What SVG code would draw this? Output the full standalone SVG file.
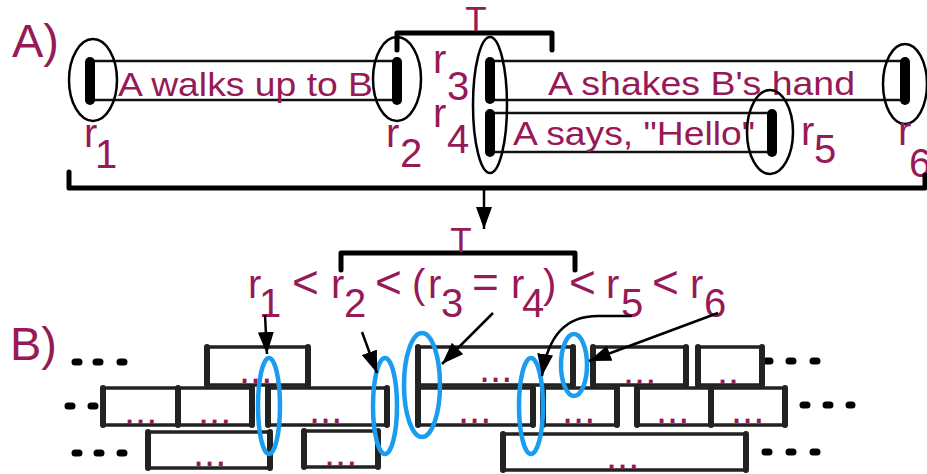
<svg xmlns="http://www.w3.org/2000/svg" width="927" height="474" viewBox="0 0 927 474">
<defs>
<style>
.lbl{font-family:"Liberation Sans",Arial,sans-serif;fill:#961a57}
.ev{fill:none;stroke:#111;stroke-width:2.5}
.bar{stroke:#000;stroke-width:10;stroke-linecap:round}
.ell{fill:none;stroke:#000;stroke-width:2.5}
.brk{fill:none;stroke:#000;stroke-width:5;stroke-linecap:round;stroke-linejoin:round}
.blk{fill:none;stroke:#222;stroke-width:3.5}
.edge{stroke:#222;stroke-width:6;stroke-linecap:round}
.dots{font-family:"Liberation Sans",Arial,sans-serif;font-size:40px;fill:#961a57}
.dash{stroke:#000;stroke-width:7;stroke-linecap:round}
.bell{fill:none;stroke:#1a9cf0;stroke-width:4.5}
.conn{fill:none;stroke:#000;stroke-width:2.5;marker-end:url(#ah)}
</style>
<marker id="ah" markerUnits="userSpaceOnUse" markerWidth="22" markerHeight="16" refX="22" refY="8" orient="auto"><path d="M0,0 L22,8 L0,16 z" fill="#000"/></marker>
</defs>
<rect width="927" height="474" fill="#fff"/>

<!-- Part A -->
<text class="lbl" x="12" y="57" font-size="47">A)</text>
<g id="ev-walk">
<rect class="ev" x="90" y="61" width="307" height="39"/>
<text class="lbl" x="118" y="96" font-size="34" textLength="255" lengthAdjust="spacingAndGlyphs">A walks up to B</text>
</g>
<g id="ev-shake">
<rect class="ev" x="490" y="61" width="415" height="39"/>
<text class="lbl" x="548" y="95" font-size="34" textLength="307" lengthAdjust="spacingAndGlyphs">A shakes B's hand</text>
</g>
<g id="ev-hello">
<rect class="ev" x="490" y="113" width="282" height="39"/>
<text class="lbl" x="513" y="145" font-size="34" textLength="242" lengthAdjust="spacingAndGlyphs">A says, "Hello"</text>
</g>
<g id="r1">
<line class="bar" x1="90" y1="62" x2="90" y2="100"/>
<ellipse class="ell" cx="93" cy="80" rx="24" ry="41"/>
<text class="lbl" font-size="40"><tspan x="84" y="147">r</tspan><tspan x="95" y="168">1</tspan></text>
</g>
<g id="r2">
<line class="bar" x1="397" y1="62" x2="397" y2="100"/>
<ellipse class="ell" cx="397" cy="79" rx="24" ry="42"/>
<text class="lbl" font-size="40"><tspan x="386" y="147">r</tspan><tspan x="400" y="167">2</tspan></text>
</g>
<g id="r3r4">
<line class="bar" x1="490" y1="62" x2="490" y2="99"/>
<line class="bar" x1="490" y1="114" x2="490" y2="152"/>
<ellipse class="ell" cx="490" cy="105" rx="17" ry="68"/>
<text class="lbl" font-size="40"><tspan x="433" y="73">r</tspan><tspan x="447" y="100">3</tspan></text>
<text class="lbl" font-size="40"><tspan x="433" y="127">r</tspan><tspan x="447" y="153">4</tspan></text>
</g>
<g id="r5">
<line class="bar" x1="772" y1="114" x2="772" y2="152"/>
<ellipse class="ell" cx="770" cy="132" rx="23" ry="42"/>
<text class="lbl" font-size="40"><tspan x="801" y="145">r</tspan><tspan x="814" y="163">5</tspan></text>
</g>
<g id="r6">
<line class="bar" x1="905" y1="62" x2="905" y2="100"/>
<ellipse class="ell" cx="905" cy="84" rx="22" ry="40"/>
<text class="lbl" font-size="40"><tspan x="898" y="145">r</tspan><tspan x="909" y="177">6</tspan></text>
</g>
<g id="T-A">
<path class="brk" d="M397,50 V33 H552 V50"/>
<text class="lbl" x="476" y="31" font-size="35" text-anchor="middle">T</text>
</g>
<g id="span-A">
<path class="brk" d="M69,172 V188 H925 V175"/>
</g>

<!-- Part B -->
<text class="lbl" x="10" y="360" font-size="47">B)</text>
<g id="formula">
<text class="lbl" font-size="40">
<tspan x="248" y="298">r</tspan><tspan x="259" y="317">1</tspan>
<tspan x="292" y="298" font-size="46">&lt;</tspan>
<tspan x="331" y="298">r</tspan><tspan x="344" y="317">2</tspan>
<tspan x="375" y="298" font-size="46">&lt;</tspan>
<tspan x="412" y="298">(</tspan><tspan x="428" y="298">r</tspan><tspan x="441" y="317">3</tspan>
<tspan x="472" y="298" font-size="46">=</tspan>
<tspan x="511" y="298">r</tspan><tspan x="522" y="317">4</tspan><tspan x="543" y="298">)</tspan>
<tspan x="569" y="298" font-size="46">&lt;</tspan>
<tspan x="606" y="298">r</tspan><tspan x="621" y="317">5</tspan>
<tspan x="652" y="298" font-size="46">&lt;</tspan>
<tspan x="690" y="298">r</tspan><tspan x="704" y="317">6</tspan>
</text>
</g>
<g id="T-B">
<path class="brk" d="M341,270 V253 H575 V270"/>
<text class="lbl" x="461" y="252" font-size="35" text-anchor="middle">T</text>
</g>

<g id="dashes">
<path class="dash" d="M75,362h4M96,362h4M120,362h4M68,406h4M91,406h4M75,453h4M97,453h4M120,453h4M766,361h4M789,361h4M813,361h4M803,405h4M826,405h4M849,405h3M765,452h4M789,452h4M813,452h4"/>
</g>

<g id="blocks">
<g id="b1a"><rect class="blk" x="207" y="347" width="101" height="38"/><path class="edge" d="M207,347V385M308,347V385"/><text class="dots" x="239" y="383">...</text></g>
<g id="b1b"><rect class="blk" x="418" y="347" width="155" height="38"/><path class="edge" d="M418,347V385M573,347V385"/><text class="dots" x="479" y="382">...</text></g>
<g id="b1c"><rect class="blk" x="593" y="347" width="93" height="38"/><path class="edge" d="M593,347V385M686,347V385"/><text class="dots" x="623" y="384">...</text></g>
<g id="b1d"><rect class="blk" x="698" y="347" width="64" height="38"/><path class="edge" d="M698,347V385M762,347V385"/><text class="dots" x="717" y="384">..</text></g>

<g id="b2a"><rect class="blk" x="103" y="388" width="75" height="37"/><path class="edge" d="M103,388V425M178,388V425"/><text class="dots" x="124" y="424">...</text></g>
<g id="b2b"><rect class="blk" x="178" y="388" width="74" height="37"/><path class="edge" d="M252,388V425"/><text class="dots" x="198" y="424">...</text></g>
<g id="b2c"><rect class="blk" x="268" y="388" width="119" height="37"/><path class="edge" d="M268,388V425M387,388V425"/><text class="dots" x="309" y="423">...</text></g>
<g id="b2d"><rect class="blk" x="418" y="388" width="115" height="37"/><path class="edge" d="M418,388V425M533,388V425"/><text class="dots" x="458" y="423">...</text></g>
<g id="b2e"><rect class="blk" x="543" y="388" width="74" height="37"/><path class="edge" d="M543,388V425M617,388V425"/><text class="dots" x="562" y="423">...</text></g>
<g id="b2f"><rect class="blk" x="637" y="388" width="74" height="37"/><path class="edge" d="M637,388V425M711,388V425"/><text class="dots" x="656" y="423">...</text></g>
<g id="b2g"><rect class="blk" x="711" y="388" width="74" height="37"/><path class="edge" d="M785,388V425"/><text class="dots" x="731" y="423">...</text></g>

<g id="b3a"><rect class="blk" x="148" y="432" width="122" height="36"/><path class="edge" d="M148,432V468M270,432V468"/><text class="dots" x="193" y="466">...</text></g>
<g id="b3b"><rect class="blk" x="304" y="431" width="74" height="36"/><path class="edge" d="M304,431V467M378,431V467"/><text class="dots" x="324" y="466">...</text></g>
<g id="b3c"><rect class="blk" x="503" y="434" width="243" height="36"/><path class="edge" d="M503,434V470M746,434V470"/><text class="dots" x="606" y="469">...</text></g>
</g>

<g id="marks">
<ellipse id="m1" class="bell" cx="269" cy="406" rx="11" ry="48"/>
<ellipse id="m2" class="bell" cx="385" cy="406" rx="12" ry="48"/>
<ellipse id="m34" class="bell" cx="422" cy="385" rx="18" ry="52"/>
<ellipse id="m5" class="bell" cx="531" cy="406" rx="12" ry="48"/>
<ellipse id="m6" class="bell" cx="574" cy="365" rx="13" ry="31"/>
</g>

<g id="connectors">
<path class="conn" d="M484,188 V229"/>
<path class="conn" d="M265,315 L267,354"/>
<path class="conn" d="M362,332 L377,373"/>
<path class="conn" d="M493,313 L442,364"/>
<path class="conn" d="M632,316 L598,316 C566,316 548,335 542,376"/>
<path class="conn" d="M718,313 L589,361"/>
</g>
</svg>
